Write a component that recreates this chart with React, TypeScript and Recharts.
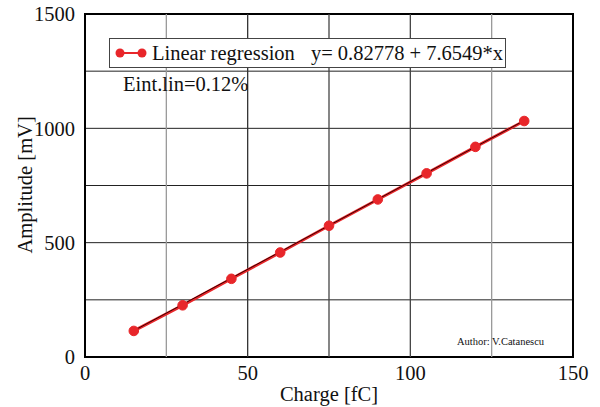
import React from 'react';
import { LineChart, Line, XAxis, YAxis, CartesianGrid, ReferenceLine, ReferenceArea } from 'recharts';

// charge [fC]
const charges = [15, 30, 45, 60, 75, 90, 105, 120, 135];
// measured amplitude [mV]
const amplitudes = [114, 226, 342, 457, 574, 689, 803, 919, 1032];
// fitted line values
const fitValues = [115, 230, 345, 460, 575, 690, 805, 919, 1034];

const xTicks = [0, 50, 100, 150];
const yTicks = [0, 500, 1000, 1500];
const xGrid = [25, 50, 75, 100, 125];
const xGridColors = ['#999', '#333', '#444', '#444', '#999'];
const yGrid = [250, 500, 750, 1000, 1250];

const legendLabel = 'Linear regression';
const legendFormula = 'y= 0.82778 + 7.6549*x';
const noteText = 'Eint.lin=0.12%';
const authorText = 'Author: V.Catanescu';

const data = charges.map((c, i) => ({ charge: c, amp: amplitudes[i], fit: fitValues[i] }));

const serif = '"Liberation Serif", "DejaVu Serif", serif';

const LegendBox = () => (
    <div
        style={{
            position: 'absolute',
            left: 109,
            top: 38,
            border: '1px solid #444',
            background: '#fff',
            width: 397,
            height: 30,
            display: 'flex',
            alignItems: 'center',
            fontFamily: serif,
            fontSize: 20.5,
            color: '#111',
            boxSizing: 'border-box',
        }}
    >
        <svg width={32} height={14} style={{ marginLeft: 5, marginRight: 5 }}>
            <line x1={5} y1={7} x2={27} y2={7} stroke="#e8262a" strokeWidth={2} />
            <circle cx={5} cy={7} r={4.5} fill="#e8262a" />
            <circle cx={27} cy={7} r={4.5} fill="#e8262a" />
        </svg>
        <span style={{ whiteSpace: 'pre' }}>{legendLabel}</span>
        <span style={{ whiteSpace: 'pre', marginLeft: 16 }}>{legendFormula}</span>
    </div>
);

export default function App() {
    return (
        <div style={{ position: 'absolute', left: 0, top: 0, width: 600, height: 407, background: '#fff', fontFamily: serif }}>
            <LineChart width={600} height={407} data={data} margin={{ top: 14, right: 27, left: 25, bottom: 20 }}>
                <CartesianGrid horizontal={true} vertical={false} horizontalValues={yGrid} stroke="#222" strokeWidth={1} />
                {xGrid.map((g, i) => (
                    <ReferenceLine key={g} x={g} stroke={xGridColors[i]} strokeWidth={1.3} />
                ))}
                <XAxis
                    dataKey="charge"
                    type="number"
                    domain={[0, 150]}
                    ticks={xTicks}
                    tickLine={false}
                    axisLine={false}
                    height={30}
                    tick={{ fill: '#111', fontSize: 20.5, fontFamily: serif }}
                    tickMargin={2}
                    label={{ value: 'Charge [fC]', position: 'insideBottom', offset: -14, fill: '#111', fontSize: 20.5, fontFamily: serif }}
                />
                <YAxis
                    type="number"
                    domain={[0, 1500]}
                    ticks={yTicks}
                    tickLine={false}
                    axisLine={false}
                    width={60}
                    tick={{ fill: '#111', fontSize: 20.5, fontFamily: serif }}
                    tickMargin={4}
                    label={{ value: 'Amplitude [mV]', angle: -90, position: 'insideLeft', offset: 0, dy: 68, fill: '#111', fontSize: 20.5, fontFamily: serif }}
                />
                <ReferenceArea x1={0} x2={150} y1={0} y2={1500} fill="none" stroke="#000" strokeWidth={2} />
                <Line
                    dataKey="amp"
                    stroke="#e8262a"
                    strokeWidth={3}
                    dot={{ r: 4.8, fill: '#e8262a', stroke: '#e8262a', strokeWidth: 1 }}
                    isAnimationActive={false}
                />
                <Line dataKey="fit" stroke="#3a0000" strokeWidth={1} dot={false} isAnimationActive={false} />
            </LineChart>
            <LegendBox />
            <div style={{ position: 'absolute', left: 123, top: 73, fontSize: 20.5, color: '#111', fontFamily: serif }}>{noteText}</div>
            <div style={{ position: 'absolute', left: 457, top: 336, fontSize: 10.5, color: '#111', fontFamily: serif }}>{authorText}</div>
        </div>
    );
}
